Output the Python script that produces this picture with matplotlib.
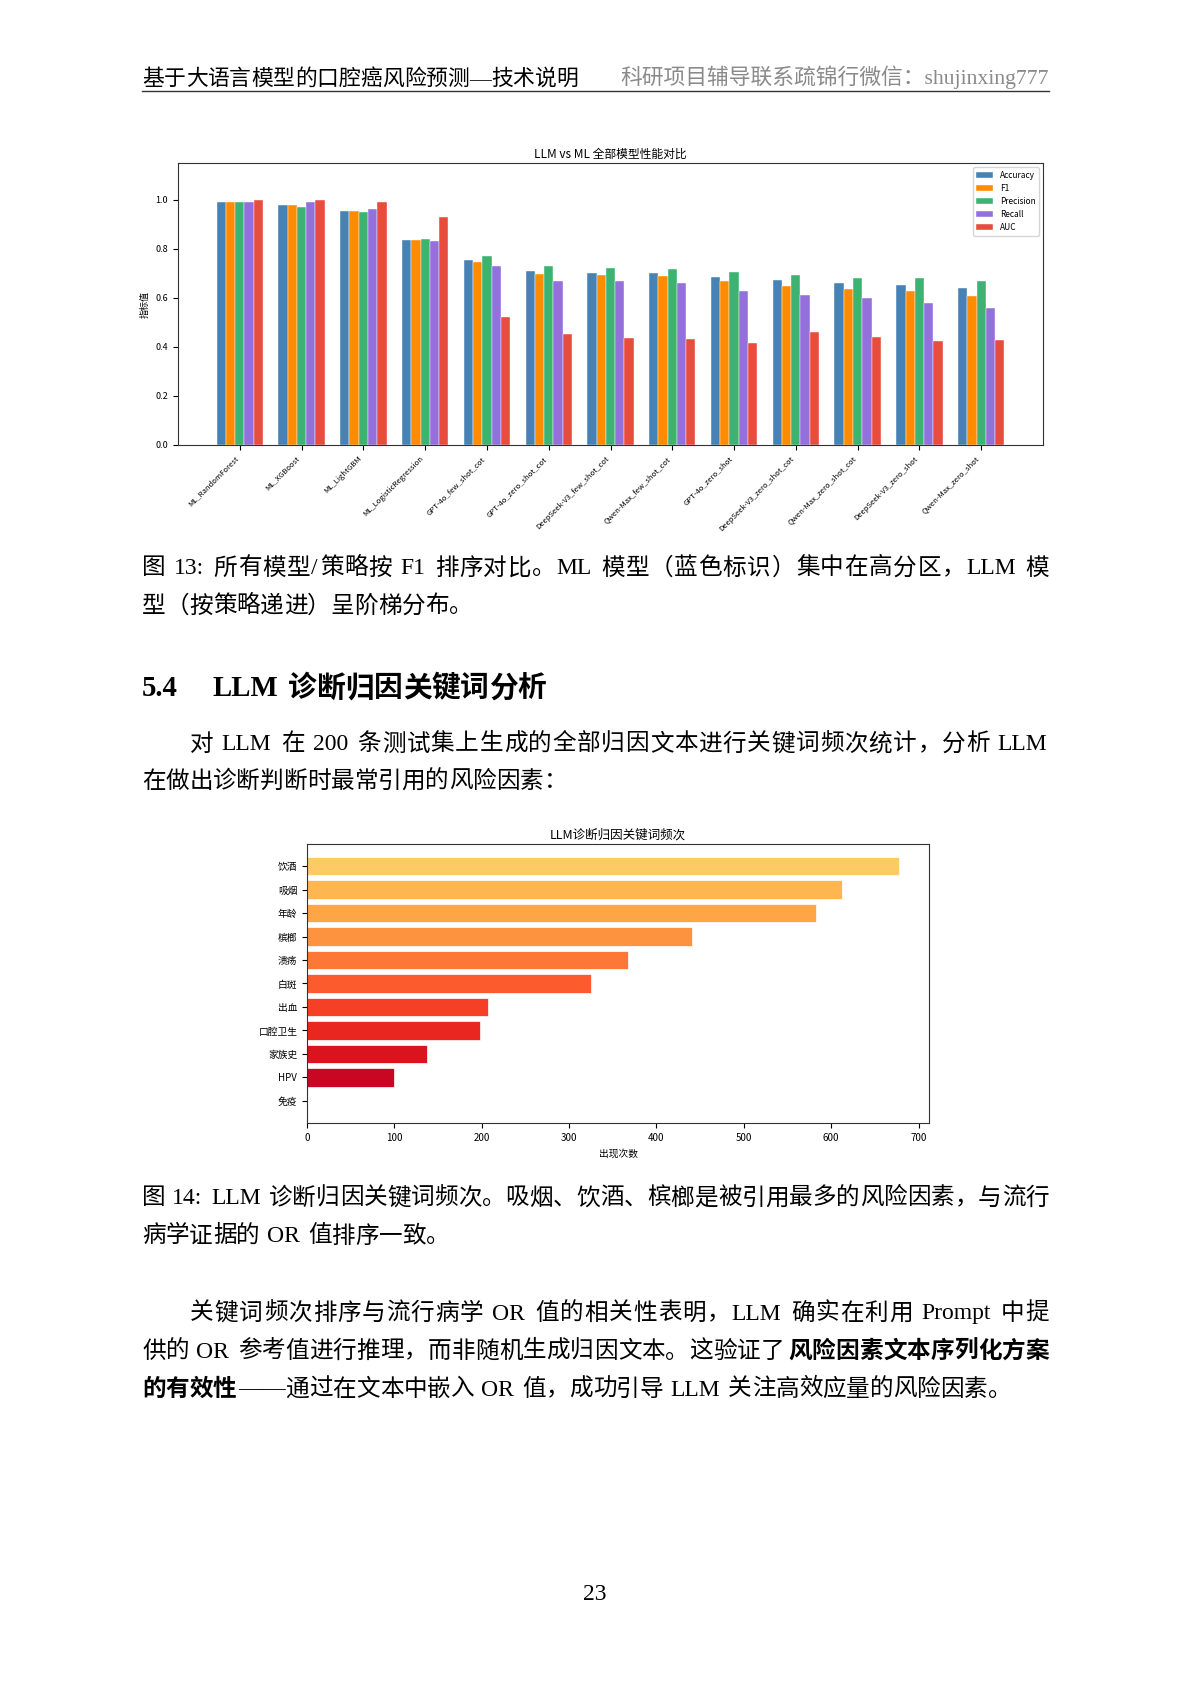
import re
import numpy as np
import matplotlib
matplotlib.use('Agg')
import matplotlib.pyplot as plt
from matplotlib.lines import Line2D

# chart 1 data: model ranking
models = ['ML_RandomForest', 'ML_XGBoost', 'ML_LightGBM', 'ML_LogisticRegression',
          'GPT-4o_few_shot_cot', 'GPT-4o_zero_shot_cot', 'DeepSeek-V3_few_shot_cot',
          'Qwen-Max_few_shot_cot', 'GPT-4o_zero_shot', 'DeepSeek-V3_zero_shot_cot',
          'Qwen-Max_zero_shot_cot', 'DeepSeek-V3_zero_shot', 'Qwen-Max_zero_shot']
accuracy = [0.990, 0.980, 0.955, 0.835, 0.755, 0.710, 0.703, 0.701, 0.686, 0.671, 0.660, 0.654, 0.641]
f1 = [0.990, 0.980, 0.955, 0.834, 0.748, 0.697, 0.694, 0.690, 0.667, 0.649, 0.638, 0.627, 0.608]
precision = [0.990, 0.970, 0.951, 0.839, 0.769, 0.729, 0.721, 0.717, 0.707, 0.693, 0.682, 0.683, 0.667]
recall = [0.990, 0.990, 0.962, 0.830, 0.731, 0.669, 0.669, 0.660, 0.630, 0.611, 0.599, 0.581, 0.560]
auc = [1.000, 1.000, 0.990, 0.929, 0.520, 0.452, 0.437, 0.434, 0.415, 0.460, 0.442, 0.423, 0.427]
metric_names = ['Accuracy', 'F1', 'Precision', 'Recall', 'AUC']
metric_colors = ['#4682B4', '#FF8C00', '#3CB371', '#9370DB', '#E74C3C']

# chart 2 data: keyword counts
keywords = ['饮酒', '吸烟', '年龄', '槟榔', '溃疡', '白斑', '出血', '口腔卫生', '家族史', 'HPV', '免疫']
counts = [678, 612, 583, 441, 367, 325, 207, 198, 137, 100, 0]

W, H = 1191, 1684
BODY = ['Liberation Serif', 'Noto Sans CJK SC']
CHART = ['Noto Sans CJK SC', 'DejaVu Sans']
plt.rcParams['font.family'] = CHART
plt.rcParams['axes.unicode_minus'] = False

fig = plt.figure(figsize=(W / 100, H / 100), dpi=100)
fig.patch.set_facecolor('white')
renderer = fig.canvas.get_renderer()


def fx(x):
    return x / W


def fy(y):
    return 1 - y / H


def draw_line(x0, y, s, size=17, weight='normal', color='black', x1=None):
    # y is the visual centre of the line; tokens placed one by one so the line can be justified
    em = size * 100 / 72
    base = y + 0.36 * em
    items = []
    for t in re.findall(r'[!-~]+| +|.', s):
        if t.startswith(' '):
            items.append((None, 0.28 * em * len(t)))
            continue
        txt = fig.text(0, fy(base), t, fontsize=size, family=BODY, weight=weight,
                       color=color, ha='left', va='baseline')
        if ord(t[0]) > 0x2000:
            adv = em
        else:
            adv = txt.get_window_extent(renderer).width + 0.07 * em
        items.append((txt, adv))
    gap = 0
    if x1 is not None and len(items) > 1:
        gap = (x1 - x0 - sum(a for _, a in items)) / (len(items) - 1)
    x = x0
    for txt, adv in items:
        if txt is not None:
            txt.set_x(fx(x))
        x += adv + gap


# page header
draw_line(142, 77, '基于大语言模型的口腔癌风险预测—技术说明', size=15.7)
fig.text(fx(1049), fy(77), '科研项目辅导联系疏锦行微信：shujinxing777', fontsize=15.7,
         family=BODY, color='#8a8a8a', ha='right', va='center')
fig.add_artist(Line2D([fx(142), fx(1049)], [fy(91), fy(91)], lw=1.0, color='#333333'))

# chart 1
ax1 = fig.add_axes([fx(178), fy(445), (1043 - 178) / W, (445 - 163) / H])
x = np.arange(len(models))
width = 0.15
values = [accuracy, f1, precision, recall, auc]
for i in range(len(metric_names)):
    ax1.bar(x + (i - 2) * width, values[i], width, label=metric_names[i],
            color=metric_colors[i], edgecolor='white', linewidth=0.3)
ax1.set_xticks(x)
ax1.set_xticklabels(models, rotation=45, ha='right', fontsize=5.5)
ax1.set_xlim(-1.0, 13.0)
ax1.set_ylim(0, 1.15)
ax1.tick_params(axis='y', labelsize=6.5)
ax1.set_ylabel('指标值', fontsize=6.5)
ax1.set_title('LLM vs ML 全部模型性能对比', fontsize=8.5, pad=4)
ax1.legend(loc='upper right', fontsize=6)
for sp in ax1.spines.values():
    sp.set_color('#333333')
    sp.set_linewidth(0.8)

draw_line(142, 566, '图 13: 所有模型/策略按 F1 排序对比。ML 模型（蓝色标识）集中在高分区，LLM 模', x1=1049)
draw_line(142, 604, '型（按策略递进）呈阶梯分布。')

draw_line(142, 686, '5.4', size=20.7, weight='bold')
draw_line(212, 686, 'LLM 诊断归因关键词分析', size=20.7, weight='bold')

draw_line(190, 742, '对 LLM 在 200 条测试集上生成的全部归因文本进行关键词频次统计，分析 LLM', x1=1049)
draw_line(142, 779, '在做出诊断判断时最常引用的风险因素：')

# chart 2
ax2 = fig.add_axes([fx(307), fy(1123), (929 - 307) / W, (1123 - 844) / H])
bar_colors = plt.cm.YlOrRd(np.linspace(0.3, 0.9, len(keywords)))
ax2.barh(keywords, counts, height=0.8, color=bar_colors, edgecolor='white', linewidth=0.5)
ax2.invert_yaxis()
ax2.tick_params(labelsize=7)
ax2.set_xlabel('出现次数', fontsize=7)
ax2.set_title('LLM诊断归因关键词频次', fontsize=9, pad=4)
for sp in ax2.spines.values():
    sp.set_color('#333333')
    sp.set_linewidth(0.8)

draw_line(142, 1196, '图 14: LLM 诊断归因关键词频次。吸烟、饮酒、槟榔是被引用最多的风险因素，与流行', x1=1049)
draw_line(142, 1234, '病学证据的 OR 值排序一致。')

draw_line(190, 1311, '关键词频次排序与流行病学 OR 值的相关性表明，LLM 确实在利用 Prompt 中提', x1=1049)
draw_line(142, 1349, '供的 OR 参考值进行推理，而非随机生成归因文本。这验证了', x1=784)
draw_line(788, 1349, '风险因素文本序列化方案', weight='bold', x1=1049)
draw_line(142, 1387, '的有效性', weight='bold')
draw_line(238, 1387, '——通过在文本中嵌入 OR 值，成功引导 LLM 关注高效应量的风险因素。')

fig.text(fx(595), fy(1595), '23', fontsize=17, family=BODY, ha='center', va='center')

fig.savefig('out.png', dpi=100, facecolor='white')
